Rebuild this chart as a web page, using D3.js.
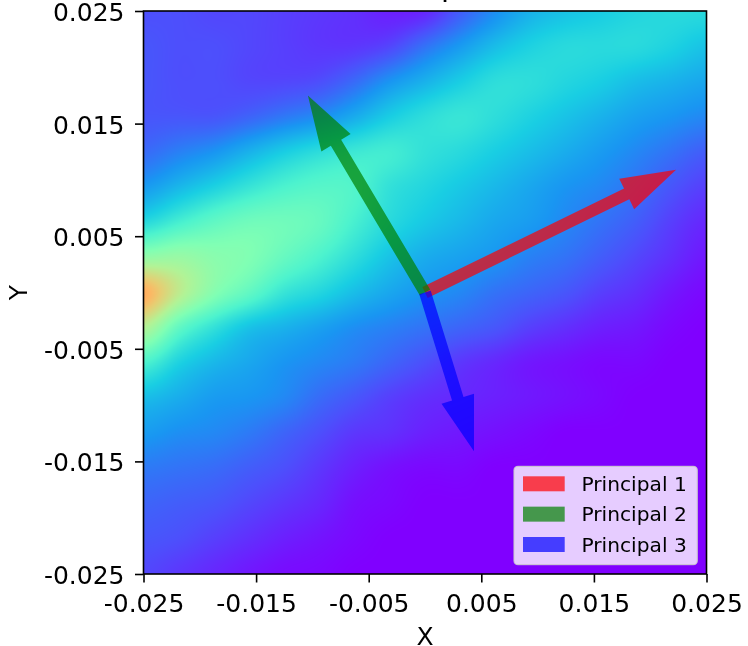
<!DOCTYPE html>
<html><head><meta charset="utf-8">
<style>html,body{margin:0;padding:0;background:#fff;overflow:hidden}svg{display:block;filter:blur(0.4px)}text{font-family:"DejaVu Sans";fill:#000}</style>
<script src="https://cdn.jsdelivr.net/npm/d3@7"></script>
</head><body><svg id="c" width="748" height="646"></svg>
<script>
const tickValues=[-0.025,-0.015,-0.005,0.005,0.015,0.025];
const gridLo=-0.025, gridHi=0.025;
// field values (top row = y 0.025)
const fieldRows=[
[.10,.10,.09,.09,.08,.07,.06,.04,.05,.12,.19,.25,.28,.30,.32,.33,.33],
[.11,.10,.10,.09,.08,.07,.07,.09,.15,.21,.27,.31,.33,.33,.33,.31,.28],
[.11,.10,.10,.09,.09,.10,.14,.20,.25,.30,.34,.34,.32,.30,.27,.25,.23],
[.11,.11,.11,.13,.16,.19,.24,.30,.34,.36,.34,.31,.28,.25,.22,.20,.18],
[.14,.17,.20,.25,.30,.34,.37,.38,.35,.33,.30,.27,.24,.21,.18,.15,.12],
[.21,.26,.31,.36,.40,.42,.41,.35,.32,.29,.26,.23,.20,.18,.15,.11,.08],
[.33,.39,.44,.47,.47,.45,.39,.33,.29,.26,.23,.21,.18,.15,.12,.08,.05],
[.54,.55,.52,.50,.45,.40,.34,.28,.24,.22,.20,.17,.15,.12,.09,.06,.03],
[.76,.62,.51,.44,.36,.32,.27,.23,.20,.18,.15,.13,.11,.08,.06,.03,.01],
[.60,.44,.35,.28,.25,.22,.19,.17,.15,.13,.11,.08,.06,.04,.03,.01,0],
[.40,.31,.26,.23,.20,.18,.16,.13,.10,.07,.05,.03,.02,.01,.01,0,0],
[.27,.24,.21,.20,.18,.14,.11,.08,.06,.05,.04,.03,.02,.01,0,0,0],
[.21,.19,.18,.16,.13,.10,.07,.06,.04,.03,.02,.01,0,0,0,0,0],
[.16,.15,.14,.12,.10,.07,.04,.02,.01,.01,0,0,0,0,0,0,0],
[.13,.12,.11,.09,.07,.05,.02,.01,0,0,0,0,0,0,0,0,0],
[.11,.10,.08,.06,.04,.025,.01,0,0,0,0,0,0,0,0,0,0],
[.09,.07,.05,.03,.015,.01,0,0,0,0,0,0,0,0,0,0,0]];
const rainbowStops=["#8000ff","#4d4ffc","#1996f2","#19cee3","#4df3ce","#80ffb4","#b2f396","#e6ce73","#ffb462","#ff4f28","#ff0000"];
const rainbowDomain=[0,.1,.2,.3,.4,.5,.6,.7,.75,.9,1];
const arrowNames=["Principal 1","Principal 2","Principal 3"];
const arrowColors=["red","green","blue"];
const arrowX=[0.0223,-0.0104,0.00435];
const arrowY=[0.0109,0.0175,-0.0141];

const x=d3.scaleLinear().domain([gridLo,gridHi]).range([143.5,706.5]);
const y=d3.scaleLinear().domain([gridLo,gridHi]).range([574,11]);
const color=d3.scaleLinear().domain(rainbowDomain).range(rainbowStops).clamp(true);
const svg=d3.select("#c");

// heat image
const W=563,H=563,n=fieldRows.length;
const cv=document.createElement("canvas");cv.width=W;cv.height=H;
const ctx=cv.getContext("2d"),img=ctx.createImageData(W,H);
const cr=(a,b,c,d,t)=>b+.5*t*(c-a+t*(2*a-5*b+4*c-d+t*(3*(b-c)+d-a)));
const at=(r,c)=>fieldRows[Math.max(0,Math.min(n-1,r))][Math.max(0,Math.min(n-1,c))];
for(let py=0;py<H;py++){const gy=py/(H-1)*(n-1),r=Math.min(n-2,Math.floor(gy)),ty=gy-r;
 for(let px=0;px<W;px++){const gx=px/(W-1)*(n-1),k=Math.min(n-2,Math.floor(gx)),tx=gx-k;
  const row=i=>cr(at(i,k-1),at(i,k),at(i,k+1),at(i,k+2),tx);
  const v=cr(row(r-1),row(r),row(r+1),row(r+2),ty);
  const c=d3.rgb(color(v)),o=(py*W+px)*4;
  img.data[o]=c.r;img.data[o+1]=c.g;img.data[o+2]=c.b;img.data[o+3]=255;}}
ctx.putImageData(img,0,0);
svg.append("image").attr("href",cv.toDataURL()).attr("x",x(gridLo)).attr("y",y(gridHi))
 .attr("width",x(gridHi)-x(gridLo)).attr("height",y(gridLo)-y(gridHi)).attr("preserveAspectRatio","none");

// arrows
const shaft=6,headHalf=17,headLen=55;
arrowNames.forEach((name,i)=>{
 const x0=x(0),y0=y(0),x1=x(arrowX[i]),y1=y(arrowY[i]);
 const L=Math.hypot(x1-x0,y1-y0),ux=(x1-x0)/L,uy=(y1-y0)/L,nx=-uy,ny=ux,bx=x1-ux*headLen,by=y1-uy*headLen;
 const p=[[x0+nx*shaft,y0+ny*shaft],[bx+nx*shaft,by+ny*shaft],[bx+nx*headHalf,by+ny*headHalf],[x1,y1],
  [bx-nx*headHalf,by-ny*headHalf],[bx-nx*shaft,by-ny*shaft],[x0-nx*shaft,y0-ny*shaft]];
 svg.append("polygon").attr("points",p.join(" ")).attr("fill",arrowColors[i]).attr("fill-opacity",.7);
});

// frame and axes
const fmt=d=>d3.format(".3f")(d).replace("−","-");
const ax=d3.axisBottom(x).tickValues(tickValues).tickSize(8.5).tickPadding(11.5).tickFormat(fmt);
const ay=d3.axisLeft(y).tickValues(tickValues).tickSize(8.5).tickPadding(10.5).tickFormat(fmt);
const gx=svg.append("g").attr("transform",`translate(0,${y(gridLo)})`).call(ax);
const gy=svg.append("g").attr("transform",`translate(${x(gridLo)},0)`).call(ay);
[gx,gy].forEach(g=>{g.selectAll(".domain").remove();
 g.selectAll("line").attr("stroke","#000").attr("stroke-width",1.6);
 g.selectAll("text").attr("font-size",25).attr("font-family","DejaVu Sans").attr("fill","#000");});
gy.selectAll("text").attr("dy","0.38em");
svg.append("rect").attr("x",x(gridLo)).attr("y",y(gridHi)).attr("width",x(gridHi)-x(gridLo)).attr("height",y(gridLo)-y(gridHi))
 .attr("fill","none").attr("stroke","#000").attr("stroke-width",1.6);
svg.append("text").attr("x",425).attr("y",644.5).attr("text-anchor","middle").attr("font-size",25).text("X");
svg.append("text").attr("transform","translate(26.5,292.5) rotate(-90)").attr("text-anchor","middle").attr("font-size",25).text("Y");
// the only visible part of the title, cropped by the top edge: one descender
svg.append("text").attr("x",441).attr("y",-4.5).attr("font-size",29.6).text("p");

// legend
svg.append("rect").attr("x",514).attr("y",466.3).attr("width",183.3).attr("height",98.4).attr("rx",4)
 .attr("fill","#fff").attr("fill-opacity",.8).attr("stroke","#ccc").attr("stroke-opacity",.8).attr("stroke-width",1.3);
arrowNames.forEach((name,i)=>{const ly=476.3+i*30.35;
 svg.append("rect").attr("x",523).attr("y",ly).attr("width",41.7).attr("height",15).attr("fill",arrowColors[i]).attr("fill-opacity",.7);
 svg.append("text").attr("x",581.5).attr("y",ly+14.8).attr("font-size",20.2).text(name);});
</script></body></html>
